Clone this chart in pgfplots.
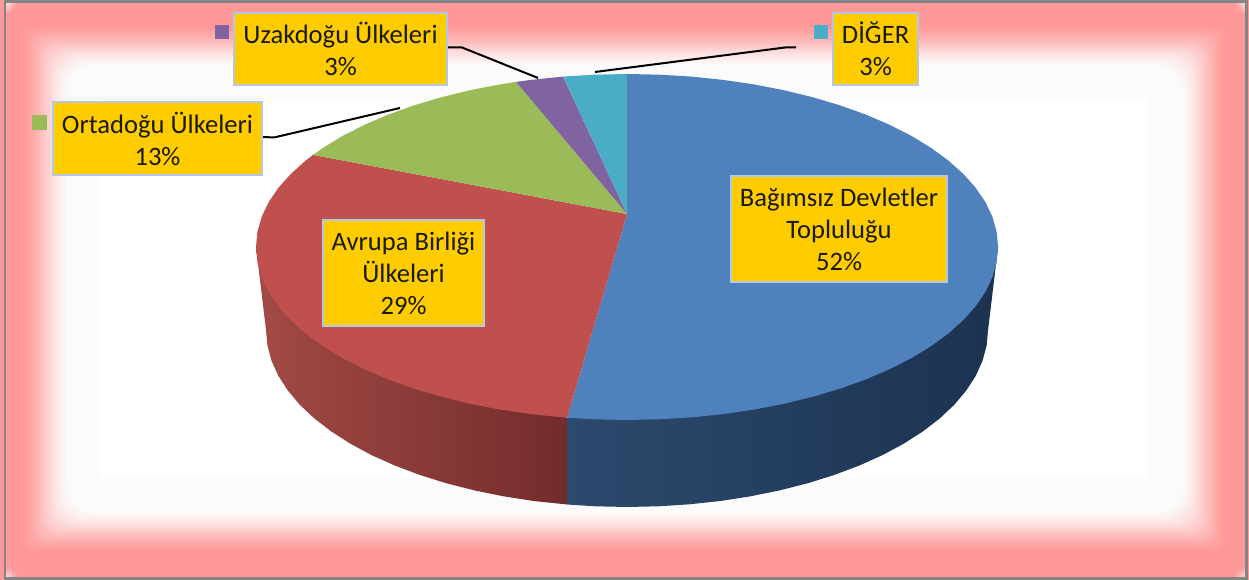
\documentclass[border=0pt]{standalone}
\usepackage{pgfplots}
\usepackage{fontspec}
\setmainfont{Carlito}
\pgfplotsset{compat=1.18}
\definecolor{pinkc}{HTML}{FF9999}
\definecolor{nearw}{HTML}{FCFBFB}
\definecolor{frame}{HTML}{858585}
\definecolor{gold}{HTML}{FFCC00}
\definecolor{boxb}{HTML}{B4C8E6}
\definecolor{cblue}{HTML}{4F81BD}
\definecolor{cred}{HTML}{C0504D}
\definecolor{cgreen}{HTML}{9BBB59}
\definecolor{cpurple}{HTML}{8064A2}
\definecolor{ccyan}{HTML}{4BACC6}
\definecolor{redL}{HTML}{A34A46}
\definecolor{redR}{HTML}{722C2B}
\definecolor{blueL}{HTML}{2C4A6E}
\definecolor{blueR}{HTML}{1C3250}
\definecolor{ink}{HTML}{1A1A08}
\tikzset{lab/.style={draw=boxb,line width=2pt,fill=gold,align=center,inner sep=0pt,text=ink,
  font=\fontsize{26.6}{32}\selectfont}}
\begin{document}
\begin{tikzpicture}[x=1pt,y=1pt]
\path[use as bounding box] (0,0) rectangle (1249,580);
% chart-area background: soft pink frame fading to white
\fill[pinkc] (0,0) rectangle (1249,580);
\begin{scope}
\clip (5,2) rectangle (1246,578);
\foreach \cx/\cy in {5/578,1246/578,5/2,1246/2}{
  \shade[inner color=pinkc!30!white,outer color=pinkc] (\cx,\cy) circle (12);
}
\end{scope}
\foreach \k in {0,...,50}{
  \pgfmathsetmacro{\t}{\k/50}
  \pgfmathsetmacro{\p}{100*(0.5*\t+0.5*\t*\t*(3-2*\t))}
  \pgfmathsetmacro{\xl}{22+46*\t}
  \pgfmathsetmacro{\xr}{1226-44*\t}
  \pgfmathsetmacro{\yt}{580-(26+40*\t)}
  \pgfmathsetmacro{\yb}{580-(552-40*\t)}
  \pgfmathsetmacro{\rr}{8+22*\t}
  \fill[nearw!\p!pinkc,rounded corners=\rr pt] (\xl,\yb) rectangle (\xr,\yt);
}
\fill[white] (100,103) rectangle (1147,480);
\draw[frame,line width=2.5pt] (4.8,1.5) rectangle (1246.5,578.5);
\begin{axis}[
  hide axis,scale only axis,width=1249pt,height=580pt,
  at={(0,0)},anchor=south west,
  xmin=-627,xmax=622,ymin=-333,ymax=247,clip=false]
% side wall, red
\addplot[left color=redL,right color=redR,draw=none,forget plot] coordinates {
 (-60,-170.7)(-371,0)(-361,-83)(-359.6,-98.4)(-355.5,-113.7)(-348.7,-128.8)(-339.2,-143.5)
 (-327.2,-157.8)(-312.6,-171.5)(-295.7,-184.5)(-276.5,-196.8)(-255.3,-208.2)(-232.1,-218.6)
 (-207.1,-228)(-180.5,-236.3)(-152.6,-243.4)(-123.5,-249.3)(-93.4,-254)(-60,-257.5)};
% side wall, blue
\addplot[left color=blueL,right color=blueR,draw=none,forget plot] coordinates {
 (-60,-170.7)(-60,-257.5)(-31.5,-259.3)(0,-260)(31.5,-259.3)(62.7,-257.3)(93.4,-254)
 (123.5,-249.3)(152.6,-243.4)(180.5,-236.3)(207.1,-228)(232.1,-218.6)(255.3,-208.2)
 (276.5,-196.8)(295.7,-184.5)(312.6,-171.5)(327.2,-157.8)(339.2,-143.5)(348.7,-128.8)
 (355.5,-113.7)(359.6,-98.4)(361,-83)(371,0)};
% top: Bagimsiz Devletler Toplulugu 52%
\addplot[fill=cblue,draw=none,forget plot] coordinates {
 (0,33)(0,173)(32.4,172.3)(64.4,170.4)(96,167.1)(126.9,162.6)(156.8,156.8)(185.5,149.8)
 (212.8,141.7)(238.5,132.5)(262.3,122.3)(284.2,111.2)(303.9,99.2)(321.3,86.5)(336.2,73.1)
 (348.6,59.2)(358.4,44.8)(365.4,30)(369.6,15.1)(371,0)(369.6,-15.1)(365.4,-30)(358.4,-44.8)
 (348.6,-59.2)(336.2,-73.1)(321.3,-86.5)(303.9,-99.2)(284.2,-111.2)(262.3,-122.3)(238.5,-132.5)
 (212.8,-141.7)(185.5,-149.8)(156.8,-156.8)(126.9,-162.6)(96,-167.1)(64.4,-170.4)(32.4,-172.3)
 (0,-173)(-32.4,-172.3)(-60,-170.7)};
% top: Avrupa Birligi Ulkeleri 29%
\addplot[fill=cred,draw=none,forget plot] coordinates {
 (0,33)(-60,-170.7)(-64.4,-170.4)(-96,-167.1)(-126.9,-162.6)(-156.8,-156.8)(-185.5,-149.8)
 (-212.8,-141.7)(-238.5,-132.5)(-262.3,-122.3)(-284.2,-111.2)(-303.9,-99.2)(-321.3,-86.5)
 (-336.2,-73.1)(-348.6,-59.2)(-358.4,-44.8)(-365.4,-30)(-369.6,-15.1)(-371,0)(-369.6,15.1)
 (-365.4,30)(-358.4,44.8)(-348.6,59.2)(-336.2,73.1)(-321.3,86.5)(-314,92.1)};
% top: Ortadogu Ulkeleri 13%
\addplot[fill=cgreen,draw=none,forget plot] coordinates {
 (0,33)(-314,92.1)(-303.9,99.2)(-284.2,111.2)(-262.3,122.3)(-238.5,132.5)(-212.8,141.7)
 (-185.5,149.8)(-156.8,156.8)(-126.9,162.6)(-111,165.1)};
% top: Uzakdogu Ulkeleri 3%
\addplot[fill=cpurple,draw=none,forget plot] coordinates {
 (0,33)(-111,165.1)(-96,167.1)(-64,170.4)};
% top: Diger 3%
\addplot[fill=ccyan,draw=none,forget plot] coordinates {
 (0,33)(-64,170.4)(-32.4,172.3)(0,173)};
% leader lines
\addplot[black,line width=2pt,forget plot] coordinates {(-364,110)(-353,109.5)(-227,139)};
\addplot[black,line width=2pt,forget plot] coordinates {(-179,199.5)(-165,199.5)(-89,169)};
\addplot[black,line width=2pt,forget plot] coordinates {(169,199.5)(158,199.5)(-32,175)};
% legend keys
\addplot[fill=cgreen,draw=none,forget plot] coordinates {(-595,132)(-580,132)(-580,117)(-595,117)};
\addplot[fill=cpurple,draw=none,forget plot] coordinates {(-412,222)(-398,222)(-398,208)(-412,208)};
\addplot[fill=ccyan,draw=none,forget plot] coordinates {(187,222)(201,222)(201,208)(187,208)};
% labels
\node[lab,minimum width=209pt,minimum height=73pt] at (axis cs:-469.5,108.5) {Ortadoğu Ülkeleri\\13\%};
\node[lab,minimum width=213pt,minimum height=72pt] at (axis cs:-286.5,198) {Uzakdoğu Ülkeleri\\3\%};
\node[lab,minimum width=85pt,minimum height=72pt] at (axis cs:248.5,198) {DİĞER\\3\%};
\node[lab,minimum width=216pt,minimum height=106pt] at (axis cs:212,18) {Bağımsız Devletler\\Topluluğu\\52\%};
\node[lab,minimum width=161pt,minimum height=106pt] at (axis cs:-223.5,-26) {Avrupa Birliği\\Ülkeleri\\29\%};
\end{axis}
\end{tikzpicture}
\end{document}
